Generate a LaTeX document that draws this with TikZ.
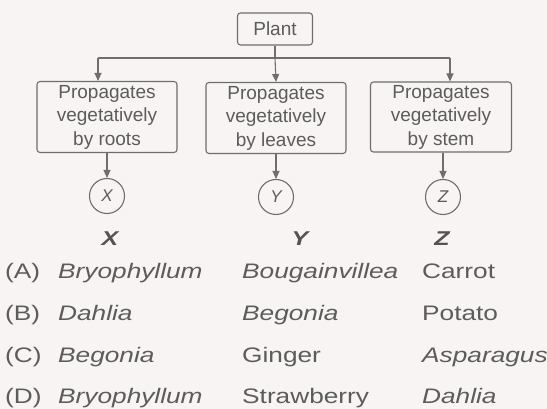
\documentclass[tikz,border=0pt]{standalone}
\usepackage{fontspec}
\setmainfont{Liberation Sans}
\newfontfamily\widefont[FakeStretch=1.25]{Liberation Sans}
\usepackage{tikz}
\usetikzlibrary{arrows.meta,positioning}
\definecolor{cLine}{HTML}{6E6E6E}
\definecolor{cText}{HTML}{5C5C5C}
\definecolor{cBg}  {HTML}{F7F4F3}
\tikzset{
  box/.style   ={draw=cLine,line width=1.1pt,rounded corners=3pt,align=center,
                 text=cText,inner sep=0pt,font=\fontsize{19}{23.5}\selectfont},
  leaf/.style  ={circle,draw=cLine,line width=1.1pt,minimum size=35pt,inner sep=0pt,
                 text=cText,font=\fontsize{17}{17}\selectfont\itshape},
  arr/.style   ={-{Triangle[length=8pt,width=7pt]},draw=cLine,line width=1.1pt},
  bar/.style   ={draw=cLine,line width=1.1pt},
  head/.style  ={text=cText!90!black,inner sep=0pt,
                 font=\widefont\fontsize{20}{20}\selectfont\bfseries\itshape},
  cell/.style  ={anchor=base west,text=cText,inner sep=0pt,
                 font=\widefont\fontsize{21}{25}\selectfont},
}

\begin{document}
\begin{tikzpicture}[x=1pt,y=-1pt]
\fill[cBg] (0,0) rectangle (547,409);
\useasboundingbox (0,0) rectangle (547,409);

% ===== tree ==============================================================
\node[box,minimum width=75pt,minimum height=32pt] (plant) at (275,29) {Plant};

\node[box,minimum width=140pt,minimum height=71pt] (roots)  at (107,117)
  {Propagates\\ vegetatively\\ by roots};
\node[box,minimum width=140pt,minimum height=71pt] (leaves) at (276,118)
  {Propagates\\ vegetatively\\ by leaves};
\node[box,minimum width=141pt,minimum height=70pt] (stem)   at (441,117)
  {Propagates\\ vegetatively\\ by stem};

\coordinate (bL) at (98,58);
\coordinate (bR) at (450,58);
\draw[bar] (plant.south) -- (plant.south|-bL);
\draw[bar] (bL) -- (bR);
\draw[arr] (bL) -- (bL|-roots.north);
\draw[arr] (plant.south|-bL) -- (leaves.north);
\draw[arr] (bR) -- (bR|-stem.north);

\node[leaf] (cx) at (107,196) {X};
\node[leaf] (cy) at (276,197) {Y};
\node[leaf] (cz) at (443,197) {Z};
\draw[arr] (roots.south)  -- (cx.north);
\draw[arr] (leaves.south) -- (cy.north);
\draw[arr] (stem.south-|cz) -- (cz.north);

% ===== answer table ======================================================
\node[head] (hx) at (110,239) {X};
\node[head] (hy) at (300,239) {Y};
\node[head] (hz) at (442,239) {Z};

\node[cell] (ra) at (5,279) {(A)};
\node[cell] (rb) at (5,320) {(B)};
\node[cell] (rc) at (5,362) {(C)};
\node[cell] (rd) at (5,403) {(D)};

\node[cell] (a1) at (58,279)  {\itshape Bryophyllum};
\node[cell] (a2) at (242,279) {\itshape Bougainvillea};
\node[cell] (a3) at (422,279) {Carrot};
\node[cell] (b1) at (58,320)  {\itshape Dahlia};
\node[cell] (b2) at (242,320) {\itshape Begonia};
\node[cell] (b3) at (422,320) {Potato};
\node[cell] (c1) at (58,362)  {\itshape Begonia};
\node[cell] (c2) at (242,362) {Ginger};
\node[cell] (c3) at (422,362) {\itshape Asparagus};
\node[cell] (d1) at (58,403)  {\itshape Bryophyllum};
\node[cell] (d2) at (242,403) {Strawberry};
\node[cell] (d3) at (422,403) {\itshape Dahlia};
\end{tikzpicture}
\end{document}
